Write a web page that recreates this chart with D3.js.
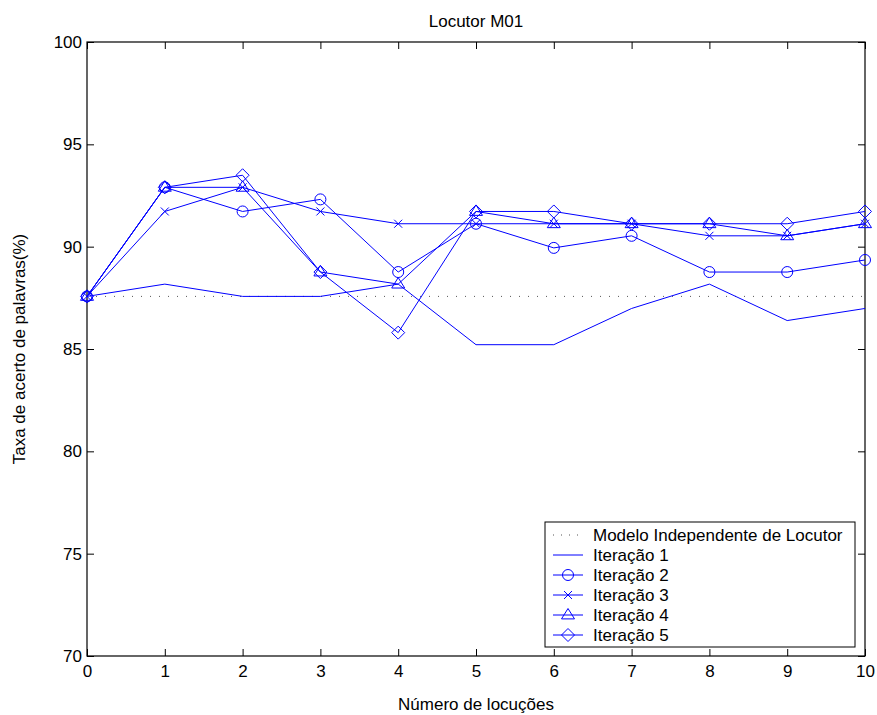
<!DOCTYPE html>
<html>
<head>
<meta charset="utf-8">
<script src="https://cdn.jsdelivr.net/npm/d3@7"></script>
<style>
  body { margin: 0; background: #fff; }
  text { font-family: "Liberation Sans", Arial, sans-serif; fill: #000; }
</style>
</head>
<body>
<svg id="svg" width="877" height="715"></svg>
<script>
// values
let locucoes = [0, 1, 2, 3, 4, 5, 6, 7, 8, 9, 10];
let independente = 87.57;
let iter1 = [87.57, 88.17, 87.57, 87.57, 88.17, 85.21, 85.21, 86.98, 88.17, 86.39, 86.98];
let iter2 = [87.57, 92.90, 91.72, 92.31, 88.76, 91.12, 89.94, 90.53, 88.76, 88.76, 89.35];
let iter3 = [87.57, 91.72, 92.90, 91.72, 91.12, 91.12, 91.12, 91.12, 90.53, 90.53, 91.12];
let iter4 = [87.57, 92.90, 92.90, 88.76, 88.17, 91.72, 91.12, 91.12, 91.12, 90.53, 91.12];
let iter5 = [87.57, 92.90, 93.49, 88.76, 85.80, 91.72, 91.72, 91.12, 91.12, 91.12, 91.72];
let yTicks = [70, 75, 80, 85, 90, 95, 100];
let legendLabels = ['Modelo Independente de Locutor', 'Iteração 1', 'Iteração 2', 'Iteração 3', 'Iteração 4', 'Iteração 5'];

let margin = {top: 42, bottom: 59, left: 87, right: 12};
let svgWidth = 877, svgHeight = 715;
let width = svgWidth - margin.left - margin.right;
let height = svgHeight - margin.top - margin.bottom;
let blue = '#0000ff';
let fontSize = '17px';

let svg = d3.select('#svg');
let g = svg.append('g').attr('transform', `translate(${margin.left},${margin.top})`);

let xScale = d3.scaleLinear().domain([0, 10]).range([0, width]);
let yScale = d3.scaleLinear().domain([70, 100]).range([height, 0]);

// axes with inward ticks on all four sides
function styleAxis(sel) {
  sel.select('.domain').remove();
  sel.selectAll('line').attr('stroke', '#000').attr('stroke-width', 1);
  sel.selectAll('text').attr('font-size', fontSize);
}
g.append('g').attr('transform', `translate(0,${height})`)
  .call(d3.axisBottom(xScale).tickValues(locucoes).tickSizeInner(-7).tickSizeOuter(0).tickPadding(9))
  .call(styleAxis);
g.append('g')
  .call(d3.axisLeft(yScale).tickValues(yTicks).tickSizeInner(-7).tickSizeOuter(0).tickPadding(5))
  .call(styleAxis);
g.append('g')
  .call(d3.axisTop(xScale).tickValues(locucoes).tickSizeInner(-7).tickSizeOuter(0).tickFormat(''))
  .call(styleAxis);
g.append('g').attr('transform', `translate(${width},0)`)
  .call(d3.axisRight(yScale).tickValues(yTicks).tickSizeInner(-7).tickSizeOuter(0).tickFormat(''))
  .call(styleAxis);
g.append('rect').attr('width', width).attr('height', height)
  .attr('fill', 'none').attr('stroke', '#000').attr('stroke-width', 1.2);

// markers
function drawMarker(sel, type, x, y) {
  if (type === 'circle') {
    sel.append('circle').attr('cx', x).attr('cy', y).attr('r', 5.5)
      .attr('fill', 'none').attr('stroke', blue);
  } else if (type === 'x') {
    let s = 4;
    sel.append('path').attr('d', `M${x - s},${y - s}L${x + s},${y + s}M${x - s},${y + s}L${x + s},${y - s}`)
      .attr('stroke', blue).attr('fill', 'none');
  } else if (type === 'triangle') {
    let s = 6.5;
    sel.append('path').attr('d', `M${x},${y - s}L${x + s},${y + s * 0.6}L${x - s},${y + s * 0.6}Z`)
      .attr('stroke', blue).attr('fill', 'none');
  } else if (type === 'diamond') {
    let s = 6.5;
    sel.append('path').attr('d', `M${x},${y - s}L${x + s},${y}L${x},${y + s}L${x - s},${y}Z`)
      .attr('stroke', blue).attr('fill', 'none');
  }
}

// reference dotted line
g.append('line')
  .attr('x1', xScale(0)).attr('x2', xScale(10))
  .attr('y1', yScale(independente)).attr('y2', yScale(independente))
  .attr('stroke', '#555').attr('stroke-width', 1).attr('stroke-dasharray', '1,8');

let series = [
  {values: iter1, marker: null},
  {values: iter2, marker: 'circle'},
  {values: iter3, marker: 'x'},
  {values: iter4, marker: 'triangle'},
  {values: iter5, marker: 'diamond'}
];
let lineGenerator = d3.line()
  .x((d, i) => xScale(locucoes[i]))
  .y(d => yScale(d));

series.forEach(s => {
  let gs = g.append('g');
  gs.append('path').attr('d', lineGenerator(s.values))
    .attr('fill', 'none').attr('stroke', blue).attr('stroke-width', 1);
  if (s.marker) {
    s.values.forEach((v, i) => drawMarker(gs, s.marker, xScale(locucoes[i]), yScale(v)));
  }
});

// legend
let legend = svg.append('g').attr('transform', 'translate(545,522)');
legend.append('rect').attr('width', 310).attr('height', 125)
  .attr('fill', '#fff').attr('stroke', '#000').attr('stroke-width', 1);
legendLabels.forEach((label, i) => {
  let y = 13 + i * 20;
  if (i === 0) {
    legend.append('line').attr('x1', 8).attr('x2', 38).attr('y1', y).attr('y2', y)
      .attr('stroke', '#555').attr('stroke-dasharray', '1,7');
  } else {
    legend.append('line').attr('x1', 8).attr('x2', 38).attr('y1', y).attr('y2', y)
      .attr('stroke', blue);
    if (series[i - 1].marker) drawMarker(legend, series[i - 1].marker, 23, y);
  }
  legend.append('text').attr('x', 48).attr('y', y).attr('dy', '0.35em')
    .attr('font-size', fontSize).text(label);
});

// titles
svg.append('text').attr('x', margin.left + width / 2).attr('y', 27)
  .attr('text-anchor', 'middle').attr('font-size', fontSize).text('Locutor M01');
svg.append('text').attr('x', margin.left + width / 2).attr('y', 710)
  .attr('text-anchor', 'middle').attr('font-size', fontSize).text('Número de locuções');
svg.append('text').attr('transform', `translate(25,${margin.top + height / 2}) rotate(-90)`)
  .attr('text-anchor', 'middle').attr('font-size', fontSize).text('Taxa de acerto de palavras(%)');
</script>
</body>
</html>
